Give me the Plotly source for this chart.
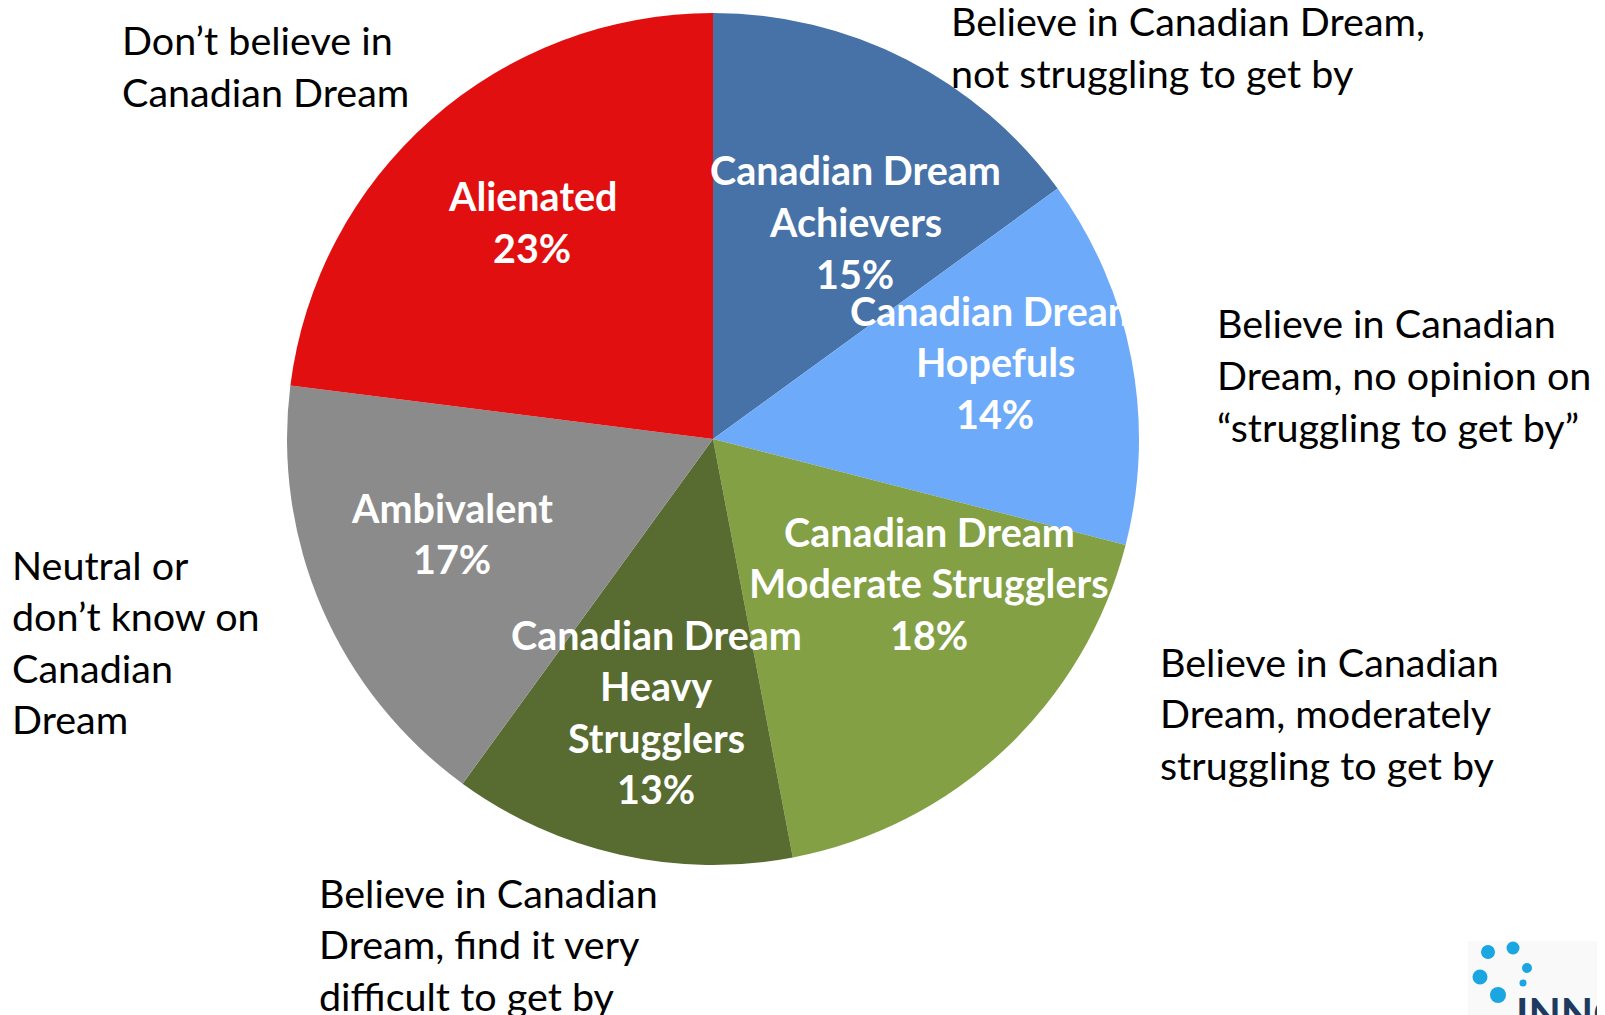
import plotly.graph_objects as go

W, H = 1605, 1015

# ---- data ----
segments = ["Canadian Dream Achievers", "Canadian Dream Hopefuls",
            "Canadian Dream Moderate Strugglers", "Canadian Dream Heavy Strugglers",
            "Ambivalent", "Alienated"]
shares = [15, 14, 18, 13, 17, 23]
inner_lines = [["Canadian Dream", "Achievers"],
               ["Canadian Dream", "Hopefuls"],
               ["Canadian Dream", "Moderate Strugglers"],
               ["Canadian Dream", "Heavy", "Strugglers"],
               ["Ambivalent"],
               ["Alienated"]]
descriptions = [["Believe in Canadian Dream,", "not struggling to get by"],
                ["Believe in Canadian", "Dream, no opinion on", "\u201cstruggling to get by\u201d"],
                ["Believe in Canadian", "Dream, moderately", "struggling to get by"],
                ["Believe in Canadian", "Dream, find it very", "difficult to get by"],
                ["Neutral or", "don\u2019t know on", "Canadian", "Dream"],
                ["Don\u2019t believe in", "Canadian Dream"]]

# ---- styles / layout ----
colors = ["#4672A7", "#6EAAFA", "#83A044", "#586B30", "#8B8B8B", "#E10F10"]
inner_pos = [(855, 170), (995, 310), (929, 531), (656, 634), (452, 507), (532, 196)]  # first-line centers (px)
outer_pos = [(949, 21), (1215, 323), (1158, 661), (317, 892), (10, 564), (120, 40)]   # left, first-line center
LS = 51.5
FONT = "Lato"
FS = 39.5
OFF = 8  # page body margin

def px(x):
    return (x - OFF) / W

def py(y):
    return 1 - (y - OFF) / H

cx, cy, r = 713, 439, 426
fig = go.Figure(go.Pie(
    labels=segments, values=shares, sort=False, direction="clockwise", rotation=0,
    marker=dict(colors=colors, line=dict(width=0)), textinfo="none",
    hovertemplate="%{label}: %{value}%<extra></extra>", showlegend=False,
    domain=dict(x=[px(cx - r), px(cx + r)], y=[py(cy + r), py(cy - r)]),
))

ann = []
for lines, v, (x, y) in zip(inner_lines, shares, inner_pos):
    for i, t in enumerate(lines + [f"{v}%"]):
        ann.append(dict(text=f"<b>{t}</b>", x=px(x), y=py(y + i * LS), xref="paper", yref="paper",
                        xanchor="center", yanchor="middle", showarrow=False,
                        font=dict(family=FONT, size=FS, color="white")))
for lines, (x, y) in zip(descriptions, outer_pos):
    for i, t in enumerate(lines):
        ann.append(dict(text=t, x=px(x), y=py(y + i * LS), xref="paper", yref="paper",
                        xanchor="left", yanchor="middle", showarrow=False,
                        font=dict(family=FONT, size=FS, color="black")))

# logo (partially visible)
ann.append(dict(text="<b>INNOVATIVE</b>", x=px(1514), y=py(986), xref="paper", yref="paper",
                xanchor="left", yanchor="top", showarrow=False,
                font=dict(family=FONT, size=42, color="#1E3A5F")))
shapes = [dict(type="rect", xref="paper", yref="paper", x0=px(1468), x1=px(1613), y0=py(1023), y1=py(941),
               fillcolor="#F9F9F9", line=dict(width=0), layer="below")]
for (dx, dy, rr) in [(1488, 952, 7), (1513, 948, 6.5), (1527, 968, 5), (1523, 983, 3.5),
                     (1480, 977, 7.5), (1498, 995, 8)]:
    shapes.append(dict(type="circle", xref="paper", yref="paper",
                       x0=px(dx - rr), x1=px(dx + rr), y0=py(dy + rr), y1=py(dy - rr),
                       fillcolor="#1AA7E1", line=dict(width=0)))

fig.update_layout(width=W, height=H, margin=dict(l=0, r=0, t=0, b=0),
                  paper_bgcolor="white", plot_bgcolor="white",
                  annotations=ann, shapes=shapes)
fig.write_html("out.html")
